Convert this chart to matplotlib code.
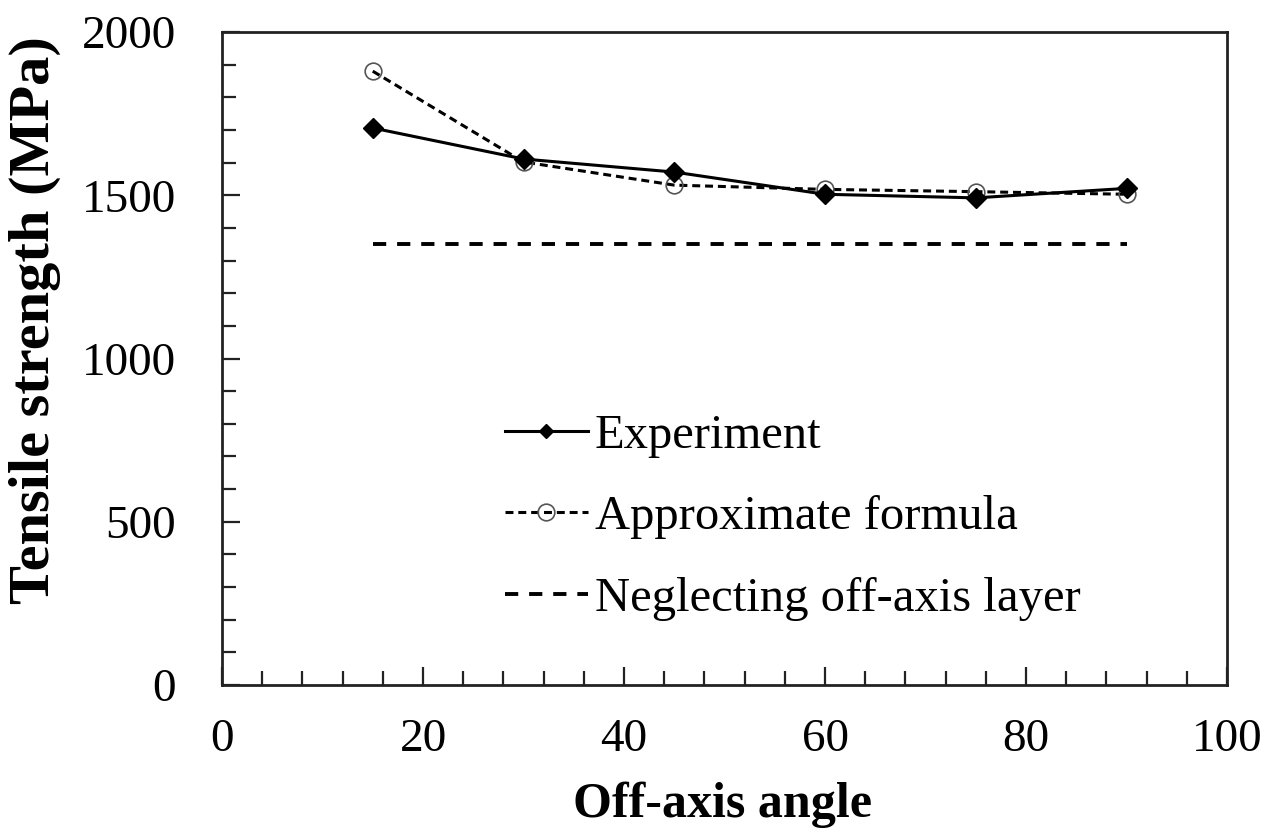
import matplotlib
matplotlib.use("Agg")
import matplotlib.pyplot as plt
from matplotlib.ticker import MultipleLocator

# Off-axis tensile strength data (MPa)
angles = [15, 30, 45, 60, 75, 90]
experiment = [1706, 1611, 1571, 1503, 1492, 1521]
approx_formula = [1880, 1602, 1531, 1518, 1511, 1503]
neglecting = [1350, 1350, 1350, 1350, 1350, 1350]

labels = ["Experiment", "Approximate formula", "Neglecting off-axis layer"]
x_ticks = [0, 20, 40, 60, 80, 100]
y_ticks = [0, 500, 1000, 1500, 2000]

plt.rcParams["font.family"] = ["Liberation Serif", "DejaVu Serif"]

fig = plt.figure(figsize=(12.74, 8.34), dpi=100)
ax = fig.add_axes([222 / 1274, 1 - 685 / 834, (1227 - 222) / 1274, (685 - 32) / 834])

ax.plot(angles, approx_formula, color="black", lw=2.2, ls=(0, (2.6, 1.6)),
        marker="o", ms=12, mfc="none", mec="#555555", mew=1.2, label=labels[1], zorder=3)
ax.plot(angles, experiment, color="black", lw=2.2, ls="-",
        marker="D", ms=10.5, mfc="black", mec="black", label=labels[0], zorder=4)
ax.plot(angles, neglecting, color="black", lw=2.8, ls=(0, (3.4, 2.8)),
        label=labels[2], zorder=2)

ax.set_xlim(0, 100)
ax.set_ylim(0, 2000)
ax.set_xticks(x_ticks)
ax.set_yticks(y_ticks)
ax.xaxis.set_minor_locator(MultipleLocator(4))
ax.yaxis.set_minor_locator(MultipleLocator(100))

ax.tick_params(which="both", direction="in", width=1.6, color="#222222")
ax.tick_params(which="major", length=13)
ax.tick_params(which="minor", length=10)
ax.tick_params(axis="x", labelsize=34, pad=24)
ax.tick_params(axis="y", labelsize=34, pad=33)
for sp in ax.spines.values():
    sp.set_linewidth(2.0)
    sp.set_color("#222222")

fig.text(35 / 1274, 1 - 320 / 834, "Tensile strength (MPa)", rotation=90,
         ha="center", va="center", fontsize=42, fontweight="bold")
fig.text(722 / 1274, 1 - 805 / 834, "Off-axis angle",
         ha="center", va="center", fontsize=36, fontweight="bold")

h, l = ax.get_legend_handles_labels()
order = [1, 0, 2]
leg = ax.legend([h[i] for i in order], [l[i] for i in order],
                loc="upper left", bbox_to_anchor=(505 / 1274, 1 - 414 / 834),
                bbox_transform=fig.transFigure, frameon=False, fontsize=35,
                handlelength=1.7, handletextpad=0.15, labelspacing=0.77,
                borderpad=0, borderaxespad=0)
leg.legend_handles[0].set_markersize(7.5)
leg.legend_handles[1].set_markersize(12)

fig.savefig("out.png", dpi=100)
